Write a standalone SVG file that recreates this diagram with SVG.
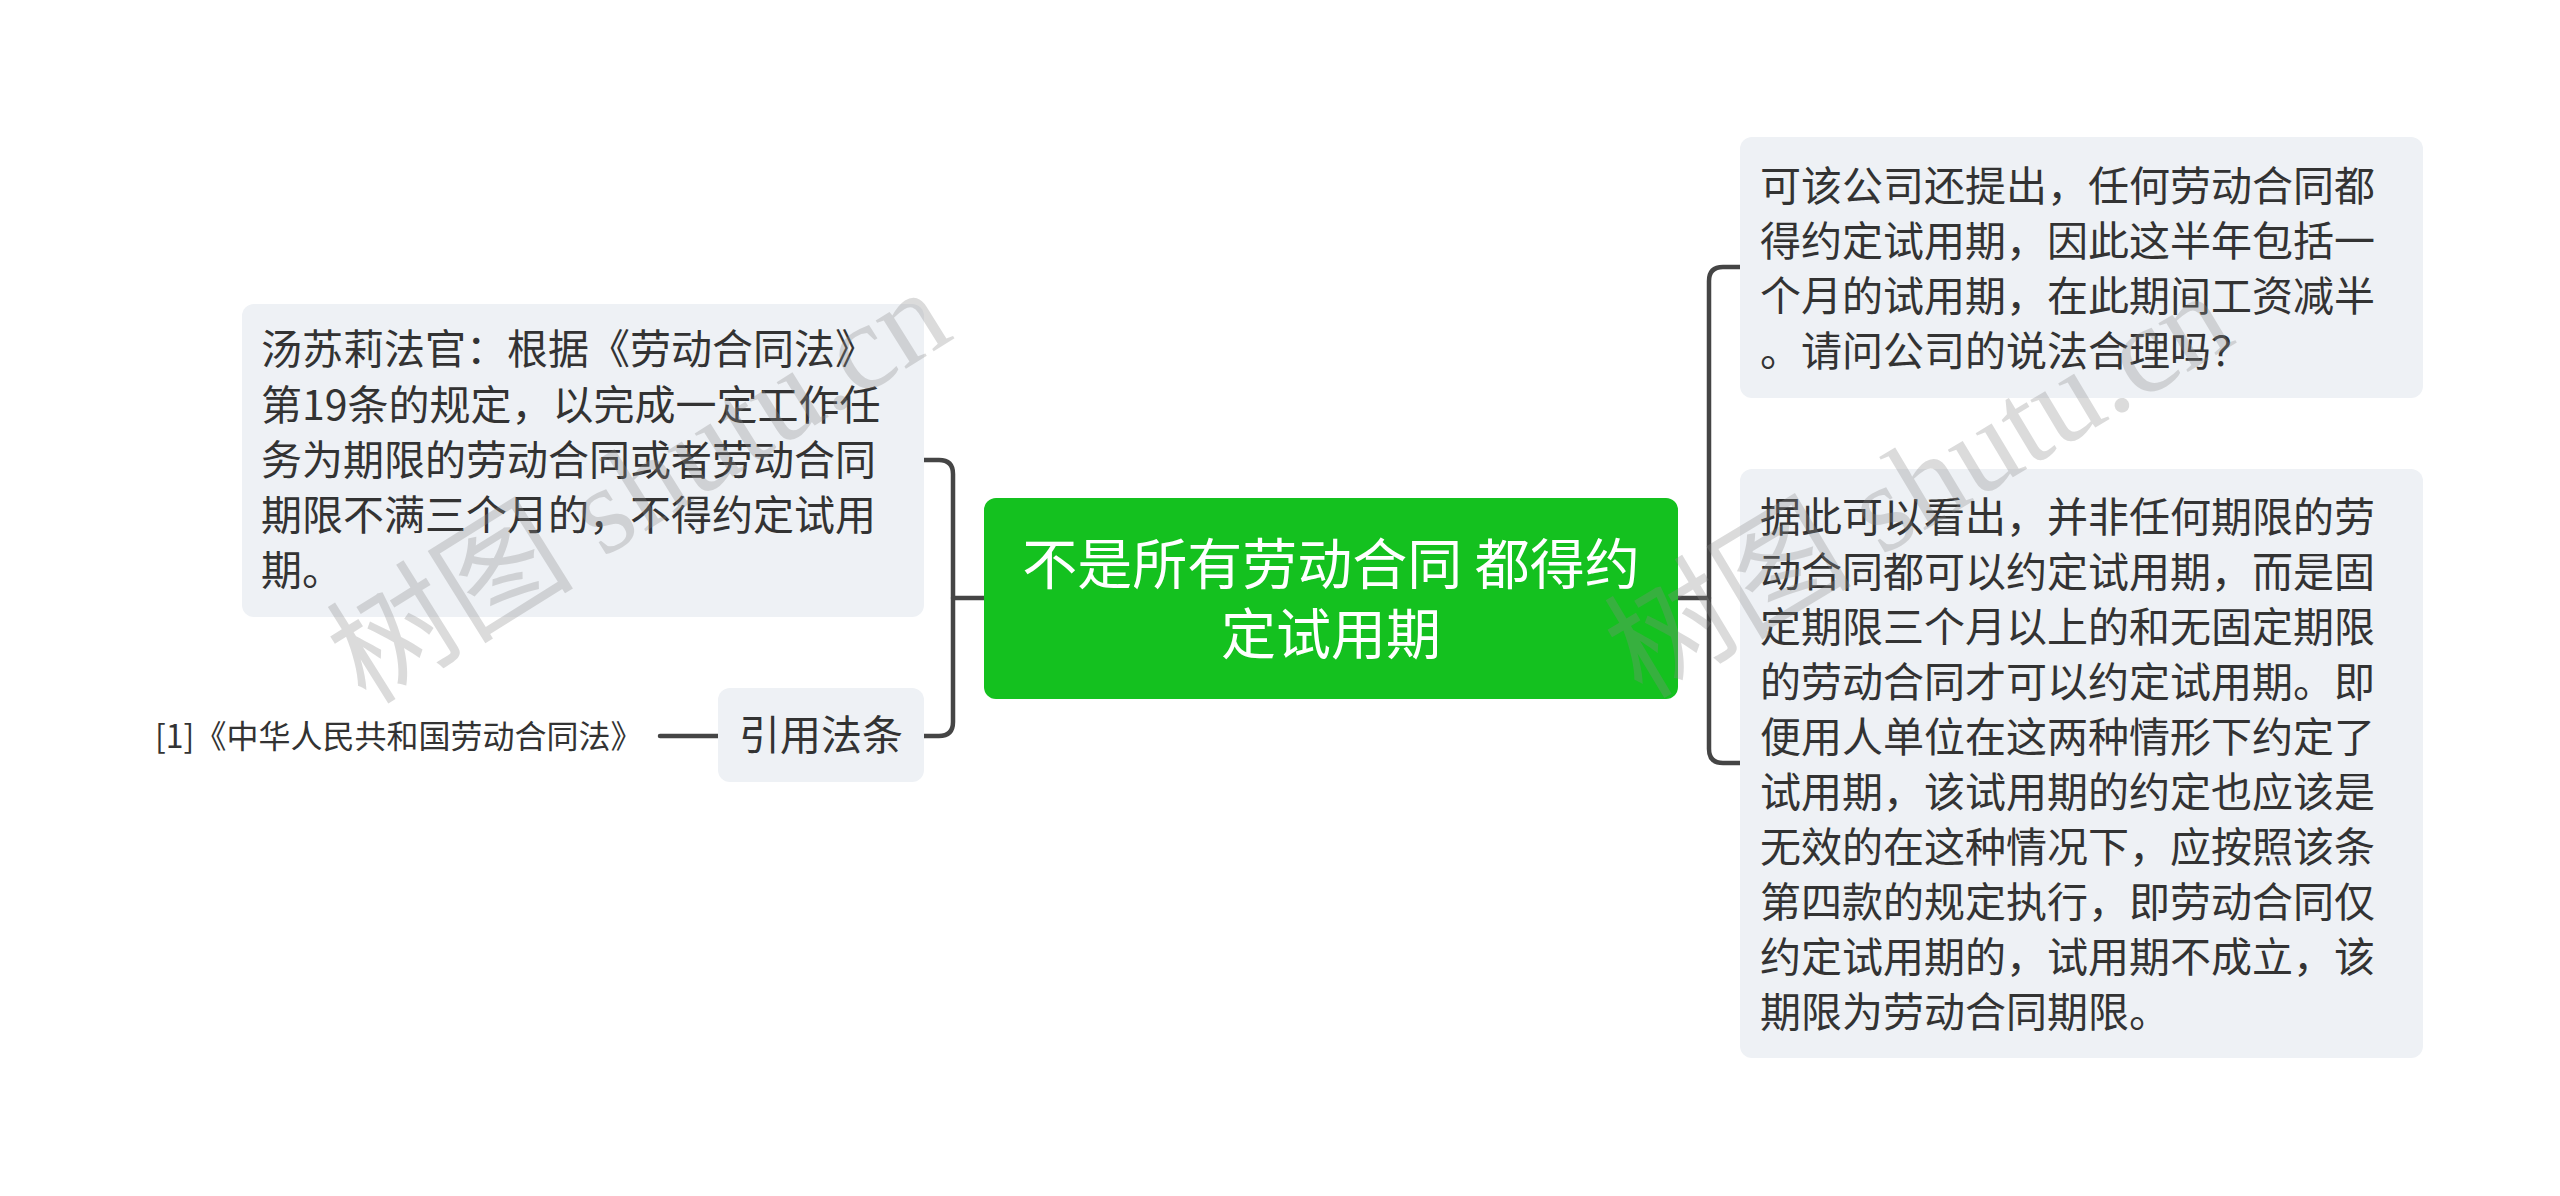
<svg xmlns="http://www.w3.org/2000/svg" width="2560" height="1196" viewBox="0 0 2560 1196">
<style>
.box{fill:#EEF1F5;}
.t{font-family:"Noto Sans CJK SC","Noto Sans",sans-serif;font-size:41px;fill:#333333;}
.ct{font-family:"Noto Sans CJK SC","Noto Sans",sans-serif;font-size:55px;fill:#FFFFFF;}
.cite{font-family:"Noto Sans CJK SC","Noto Sans",sans-serif;font-size:32px;fill:#333333;}
.conn{fill:none;stroke:#454545;stroke-width:4.5;stroke-linecap:round;}
.wm{font-family:"Liberation Serif","Noto Sans CJK SC",serif;font-size:124px;fill:#8a8a8a;opacity:0.3;}
</style>
<rect width="2560" height="1196" fill="#FFFFFF"/>
<g id="connectors">
<path class="conn" d="M984,598 H953"/>
<path class="conn" d="M924,460 H939 Q953,460 953,474 V722 Q953,736 939,736 H924"/>
<path class="conn" d="M660,736 H718"/>
<path class="conn" d="M1678,598 H1709"/>
<path class="conn" d="M1740,267 H1723 Q1709,267 1709,281 V749 Q1709,763 1723,763 H1740"/>
</g>
<g id="node-center">
<rect x="984" y="498" width="694" height="201" rx="12" fill="#14C11F"/>
<text class="ct" x="1331" y="584" text-anchor="middle">不是所有劳动合同 都得约</text>
<text class="ct" x="1331" y="654" text-anchor="middle">定试用期</text>
</g>
<g id="node-left1">
<rect class="box" x="242" y="304" width="682" height="313" rx="12"/>
<text class="t" x="261" y="364">汤苏莉法官：根据《劳动合同法》</text>
<text class="t" x="261" y="420">第19条的规定，以完成一定工作任</text>
<text class="t" x="261" y="475">务为期限的劳动合同或者劳动合同</text>
<text class="t" x="261" y="530">期限不满三个月的，不得约定试用</text>
<text class="t" x="261" y="585">期。</text>
</g>
<g id="node-left2">
<rect class="box" x="718" y="688" width="206" height="94" rx="12"/>
<text class="t" x="821" y="750" text-anchor="middle">引用法条</text>
</g>
<g id="node-cite">
<text class="cite" x="155" y="748">[1]《中华人民共和国劳动合同法》</text>
</g>
<g id="node-right1">
<rect class="box" x="1740" y="137" width="683" height="261" rx="12"/>
<text class="t" x="1760" y="201">可该公司还提出，任何劳动合同都</text>
<text class="t" x="1760" y="256">得约定试用期，因此这半年包括一</text>
<text class="t" x="1760" y="311">个月的试用期，在此期间工资减半</text>
<text class="t" x="1760" y="366">。请问公司的说法合理吗？</text>
</g>
<g id="node-right2">
<rect class="box" x="1740" y="469" width="683" height="589" rx="12"/>
<text class="t" x="1760" y="532">据此可以看出，并非任何期限的劳</text>
<text class="t" x="1760" y="587">动合同都可以约定试用期，而是固</text>
<text class="t" x="1760" y="642">定期限三个月以上的和无固定期限</text>
<text class="t" x="1760" y="697">的劳动合同才可以约定试用期。即</text>
<text class="t" x="1760" y="752">便用人单位在这两种情形下约定了</text>
<text class="t" x="1760" y="807">试用期，该试用期的约定也应该是</text>
<text class="t" x="1760" y="862">无效的在这种情况下，应按照该条</text>
<text class="t" x="1760" y="917">第四款的规定执行，即劳动合同仅</text>
<text class="t" x="1760" y="972">约定试用期的，试用期不成立，该</text>
<text class="t" x="1760" y="1027">期限为劳动合同期限。</text>
</g>
<g id="watermarks">
<text class="wm" transform="translate(366,706) rotate(-32)">树图 shutu.cn</text>
<text class="wm" transform="translate(1642,700) rotate(-31)">树图 shutu.cn</text>
</g>
</svg>
